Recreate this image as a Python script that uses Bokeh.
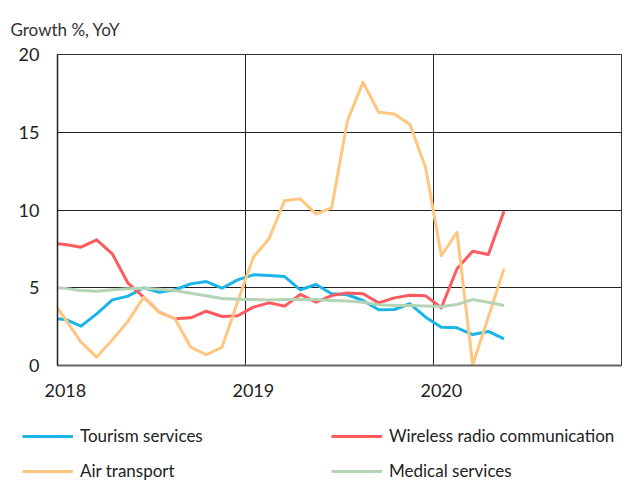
import pandas as pd
from bokeh.plotting import figure
from bokeh.layouts import column
from bokeh.models import ColumnDataSource, Range1d, FixedTicker, Legend, LegendItem
from bokeh.embed import file_html
from bokeh.resources import INLINE

# ---- data (monthly, YoY growth %) ----
months = pd.period_range("2017-12", "2020-05", freq="M").strftime("%Y-%m").tolist()

tourism = [3.04, 2.96, 2.53, 3.32, 4.22, 4.46, 5.0, 4.71, 4.87, 5.25,
           5.4, 4.97, 5.51, 5.83, 5.79, 5.72, 4.87, 5.21, 4.61, 4.55,
           4.18, 3.58, 3.6, 3.97, 3.11, 2.46, 2.42, 1.99, 2.19, 1.71]
wireless = [7.88, 7.78, 7.61, 8.08, 7.18, 5.29, 4.4, 3.43, 3.0, 3.07,
            3.49, 3.15, 3.2, 3.75, 4.03, 3.82, 4.57, 4.07, 4.5, 4.67,
            4.61, 4.03, 4.35, 4.52, 4.48, 3.71, 6.22, 7.35, 7.14, 9.92]
air = [4.4, 2.98, 1.5, 0.54, 1.65, 2.85, 4.39, 3.43, 3.0, 1.18,
       0.69, 1.18, 4.1, 6.96, 8.15, 10.6, 10.72, 9.75, 10.14, 15.71,
       18.22, 16.29, 16.18, 15.5, 12.71, 7.07, 8.57, 0.06, 3.1, 6.22]
medical = [5.04, 4.96, 4.82, 4.78, 4.87, 4.93, 4.96, 4.91, 4.82, 4.65,
           4.48, 4.31, 4.26, 4.24, 4.22, 4.24, 4.26, 4.24, 4.18, 4.14,
           4.07, 3.9, 3.86, 3.86, 3.82, 3.79, 3.92, 4.24, 4.07, 3.86]

year_labels = ["2018", "2019", "2020"]
y_ticks = [0, 5, 10, 15, 20]

series_names = ["Tourism services", "Wireless radio communication", "Air transport", "Medical services"]
series_colors = ["#19B5E6", "#FF5A5F", "#FFC680", "#B4D4B4"]

# month index: Jan 2018 occupies [0, 1); points drawn mid-month
dt = pd.to_datetime(months)
xpos = ((dt.year - 2018) * 12 + (dt.month - 1) + 0.5).tolist()

src = ColumnDataSource(dict(x=xpos, tourism=tourism, wireless=wireless, air=air, medical=medical))

FONT = "Lato"

p = figure(width=630, height=405, output_backend="svg", toolbar_location=None,
           x_range=Range1d(0, 36), y_range=Range1d(0, 20),
           min_border_left=57, min_border_right=9, min_border_top=54, min_border_bottom=40)
p.background_fill_color = "white"
p.border_fill_color = "white"
p.outline_line_color = "#333333"
p.outline_line_width = 1

# title
p.title.text = "Growth %, YoY"
p.title.text_font = FONT
p.title.text_font_size = "17px"
p.title.text_font_style = "normal"
p.title.text_color = "#333333"
p.title.align = "left"
p.title.offset = -47
p.title.standoff = 30

# axes
p.xaxis.ticker = FixedTicker(ticks=[0.5, 12.5, 24.5])
p.xaxis.major_label_overrides = {0.5: year_labels[0], 12.5: year_labels[1], 24.5: year_labels[2]}
p.yaxis.ticker = FixedTicker(ticks=y_ticks)
for ax in (p.xaxis[0], p.yaxis[0]):
    ax.major_tick_in = 0
    ax.major_tick_out = 0
    ax.minor_tick_in = 0
    ax.minor_tick_out = 0
    ax.major_label_text_font = FONT
    ax.major_label_text_font_size = "18px"
    ax.major_label_text_color = "#222222"
p.xaxis.axis_line_color = "#666666"
p.xaxis.axis_line_width = 2
p.yaxis.axis_line_color = "#222222"
p.yaxis.axis_line_width = 1.5
p.xaxis.major_label_standoff = 18
p.yaxis.major_label_standoff = 18

# grid
p.xgrid.ticker = FixedTicker(ticks=[12, 24])
p.ygrid.ticker = FixedTicker(ticks=[5, 10, 15])
p.xgrid.grid_line_color = "#222222"
p.ygrid.grid_line_color = "#222222"
p.xgrid.grid_line_width = 1
p.ygrid.grid_line_width = 1

# lines
cols = ["tourism", "wireless", "air", "medical"]
for col, color in zip(cols, series_colors):
    p.line("x", col, source=src, line_color=color, line_width=3, line_join="round")

# ---- legend strip below the chart ----
lg = figure(width=630, height=76, output_backend="svg", toolbar_location=None,
            x_range=Range1d(0, 1), y_range=Range1d(0, 1),
            x_axis_location=None, y_axis_location=None,
            min_border_left=0, min_border_right=0, min_border_top=0, min_border_bottom=0)
lg.grid.visible = False
lg.outline_line_color = None
lg.background_fill_color = "white"
lg.border_fill_color = "white"

# keep the legend strip's frame independent of the chart's frame
aligned_off = False
for fig in (p, lg):
    if "frame_align" in fig.properties():
        fig.frame_align = False
        aligned_off = True

offscreen = ColumnDataSource(dict(x=[-10, -9], y=[-10, -10]))
leg_renderers = [lg.line("x", "y", source=offscreen, line_color=c, line_width=3) for c in series_colors]
items = [LegendItem(label=n, renderers=[r]) for n, r in zip(series_names, leg_renderers)]
legend = Legend(items=items, orientation="horizontal", ncols=2,
                location=(22 if aligned_off else -35, 0), padding=0, margin=0, spacing=14,
                glyph_width=51, glyph_height=20, label_height=20, label_width=237,
                label_standoff=7, border_line_color=None, background_fill_alpha=0,
                label_text_font=FONT, label_text_font_size="17px", label_text_color="#222222")
lg.add_layout(legend, "center")

layout = column(p, lg, spacing=0)
open("out.html", "w").write(file_html(layout, INLINE))
